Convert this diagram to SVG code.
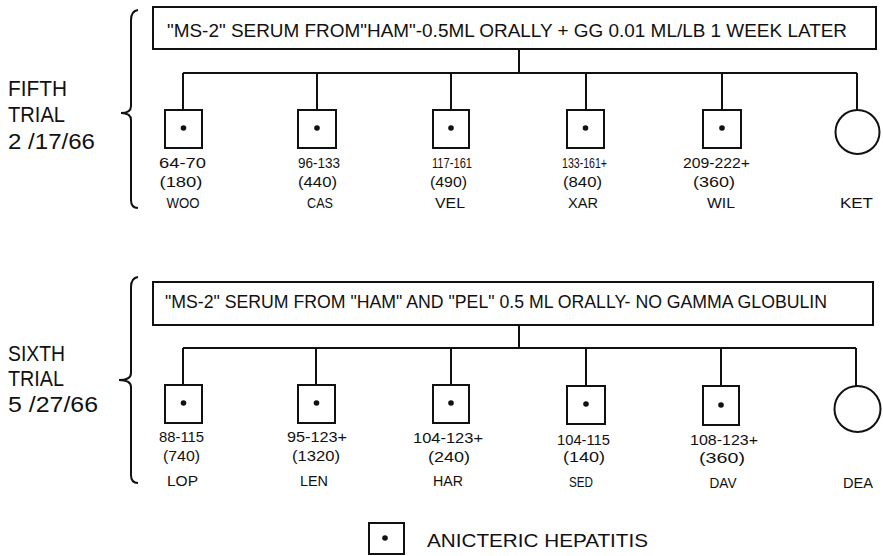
<svg xmlns="http://www.w3.org/2000/svg" width="883" height="556" viewBox="0 0 883 556">
<style>
text{font-family:"Liberation Sans",Arial,sans-serif;fill:#111}
.side{font-size:22px}
.head{font-size:19px}
.num{font-size:15px;text-anchor:middle}
.name{font-size:15px;text-anchor:middle}
.leg{font-size:19px}
.ln{fill:none;stroke:#111;stroke-width:2}
.box{fill:#fff;stroke:#111;stroke-width:2}
.dot{fill:#111}
</style>
<rect width="883" height="556" fill="#fff"/>

<g id="fifth-label">
<text class="side" x="8" y="96" textLength="59" lengthAdjust="spacingAndGlyphs">FIFTH</text>
<text class="side" x="8" y="122" textLength="57" lengthAdjust="spacingAndGlyphs">TRIAL</text>
<text class="side" x="8" y="149" textLength="87" lengthAdjust="spacingAndGlyphs">2 /17/66</text>
<path class="ln" d="M138,10 Q131,11 131,20 L131,106 Q131,113 121,113 Q131,113 131,120 L131,200 Q131,208 138,208"/>
</g>

<g id="fifth-header">
<rect class="box" x="153" y="7" width="723" height="42"/>
<text class="head" x="167" y="37" textLength="680" lengthAdjust="spacingAndGlyphs">"MS-2" SERUM FROM"HAM"-0.5ML ORALLY + GG 0.01 ML/LB   1 WEEK LATER</text>
</g>

<g id="fifth-connectors">
<path class="ln" d="M519,49 V73 M183,73 H857 M183,73 V110 M317,73 V110 M451,73 V110 M586,73 V110 M722,73 V110 M857,73 V110"/>
</g>

<g id="woo">
<rect class="box" x="165" y="110" width="37" height="38"/><circle class="dot" cx="183.5" cy="128" r="2.8"/>
<text class="num" x="182.5" y="168" textLength="47" lengthAdjust="spacingAndGlyphs">64-70</text>
<text class="num" x="181" y="187" textLength="43" lengthAdjust="spacingAndGlyphs">(180)</text>
<text class="name" x="183" y="208" textLength="33" lengthAdjust="spacingAndGlyphs">WOO</text>
</g>
<g id="cas">
<rect class="box" x="298" y="110" width="38" height="38"/><circle class="dot" cx="317" cy="128" r="2.8"/>
<text class="num" x="319" y="168" textLength="42" lengthAdjust="spacingAndGlyphs">96-133</text>
<text class="num" x="317.5" y="187" textLength="39" lengthAdjust="spacingAndGlyphs">(440)</text>
<text class="name" x="320" y="208" textLength="26" lengthAdjust="spacingAndGlyphs">CAS</text>
</g>
<g id="vel">
<rect class="box" x="433" y="110" width="36" height="38"/><circle class="dot" cx="451" cy="128" r="2.8"/>
<text class="num" x="452" y="168" textLength="40" lengthAdjust="spacingAndGlyphs">117-161</text>
<text class="num" x="448.5" y="187" textLength="37" lengthAdjust="spacingAndGlyphs">(490)</text>
<text class="name" x="450" y="208" textLength="30" lengthAdjust="spacingAndGlyphs">VEL</text>
</g>
<g id="xar">
<rect class="box" x="567" y="110" width="37" height="38"/><circle class="dot" cx="585.5" cy="128" r="2.8"/>
<text class="num" x="584.5" y="168" textLength="45" lengthAdjust="spacingAndGlyphs">133-161+</text>
<text class="num" x="582.5" y="187" textLength="39" lengthAdjust="spacingAndGlyphs">(840)</text>
<text class="name" x="583" y="208" textLength="30" lengthAdjust="spacingAndGlyphs">XAR</text>
</g>
<g id="wil">
<rect class="box" x="703" y="110" width="38" height="38"/><circle class="dot" cx="722" cy="128" r="2.8"/>
<text class="num" x="716.5" y="168" textLength="67" lengthAdjust="spacingAndGlyphs">209-222+</text>
<text class="num" x="714" y="187" textLength="42" lengthAdjust="spacingAndGlyphs">(360)</text>
<text class="name" x="721" y="208" textLength="28" lengthAdjust="spacingAndGlyphs">WIL</text>
</g>
<g id="ket">
<circle class="box" cx="857.5" cy="132" r="22"/>
<text class="name" x="856.5" y="208" textLength="33" lengthAdjust="spacingAndGlyphs">KET</text>
</g>

<g id="sixth-label">
<text class="side" x="8" y="361" textLength="57" lengthAdjust="spacingAndGlyphs">SIXTH</text>
<text class="side" x="8" y="386" textLength="56" lengthAdjust="spacingAndGlyphs">TRIAL</text>
<text class="side" x="8" y="412" textLength="90" lengthAdjust="spacingAndGlyphs">5 /27/66</text>
<path class="ln" d="M138,277 Q131,278 131,287 L131,373 Q131,380 119,380 Q131,380 131,387 L131,475 Q131,483 138,483"/>
</g>

<g id="sixth-header">
<rect class="box" x="153" y="282" width="720" height="43"/>
<text class="head" x="165" y="308" textLength="662" lengthAdjust="spacingAndGlyphs">"MS-2" SERUM FROM "HAM" AND "PEL" 0.5 ML ORALLY- NO GAMMA GLOBULIN</text>
</g>

<g id="sixth-connectors">
<path class="ln" d="M519,325 V348 M183,348 H856 M183,348 V385 M316,348 V385 M451,348 V385 M586,348 V386 M721,348 V386 M856,348 V386"/>
</g>

<g id="lop">
<rect class="box" x="165" y="385" width="37" height="38"/><circle class="dot" cx="183.5" cy="403" r="2.8"/>
<text class="num" x="181.5" y="442" textLength="45" lengthAdjust="spacingAndGlyphs">88-115</text>
<text class="num" x="181.5" y="461" textLength="37" lengthAdjust="spacingAndGlyphs">(740)</text>
<text class="name" x="182.5" y="486" textLength="31" lengthAdjust="spacingAndGlyphs">LOP</text>
</g>
<g id="len">
<rect class="box" x="298" y="385" width="37" height="38"/><circle class="dot" cx="316.5" cy="403" r="2.8"/>
<text class="num" x="317" y="442" textLength="60" lengthAdjust="spacingAndGlyphs">95-123+</text>
<text class="num" x="316" y="461" textLength="48" lengthAdjust="spacingAndGlyphs">(1320)</text>
<text class="name" x="314" y="486" textLength="28" lengthAdjust="spacingAndGlyphs">LEN</text>
</g>
<g id="har">
<rect class="box" x="433" y="385" width="36" height="38"/><circle class="dot" cx="451" cy="403" r="2.8"/>
<text class="num" x="448" y="443" textLength="70" lengthAdjust="spacingAndGlyphs">104-123+</text>
<text class="num" x="449" y="462" textLength="42" lengthAdjust="spacingAndGlyphs">(240)</text>
<text class="name" x="448" y="486" textLength="30" lengthAdjust="spacingAndGlyphs">HAR</text>
</g>
<g id="sed">
<rect class="box" x="567" y="386" width="38" height="38"/><circle class="dot" cx="586" cy="404" r="2.8"/>
<text class="num" x="583.5" y="445" textLength="53" lengthAdjust="spacingAndGlyphs">104-115</text>
<text class="num" x="584" y="462" textLength="42" lengthAdjust="spacingAndGlyphs">(140)</text>
<text class="name" x="581" y="487" textLength="24" lengthAdjust="spacingAndGlyphs">SED</text>
</g>
<g id="dav">
<rect class="box" x="703" y="386" width="36" height="39"/><circle class="dot" cx="721" cy="405" r="2.8"/>
<text class="num" x="724" y="445" textLength="68" lengthAdjust="spacingAndGlyphs">108-123+</text>
<text class="num" x="722" y="463" textLength="46" lengthAdjust="spacingAndGlyphs">(360)</text>
<text class="name" x="723" y="488" textLength="27" lengthAdjust="spacingAndGlyphs">DAV</text>
</g>
<g id="dea">
<circle class="box" cx="857.5" cy="409" r="23"/>
<text class="name" x="858" y="488" textLength="30" lengthAdjust="spacingAndGlyphs">DEA</text>
</g>

<g id="legend">
<rect class="box" x="369" y="523" width="35" height="31"/><circle class="dot" cx="385" cy="538" r="2.8"/>
<text class="leg" x="427" y="547" textLength="221" lengthAdjust="spacingAndGlyphs">ANICTERIC  HEPATITIS</text>
</g>
</svg>
